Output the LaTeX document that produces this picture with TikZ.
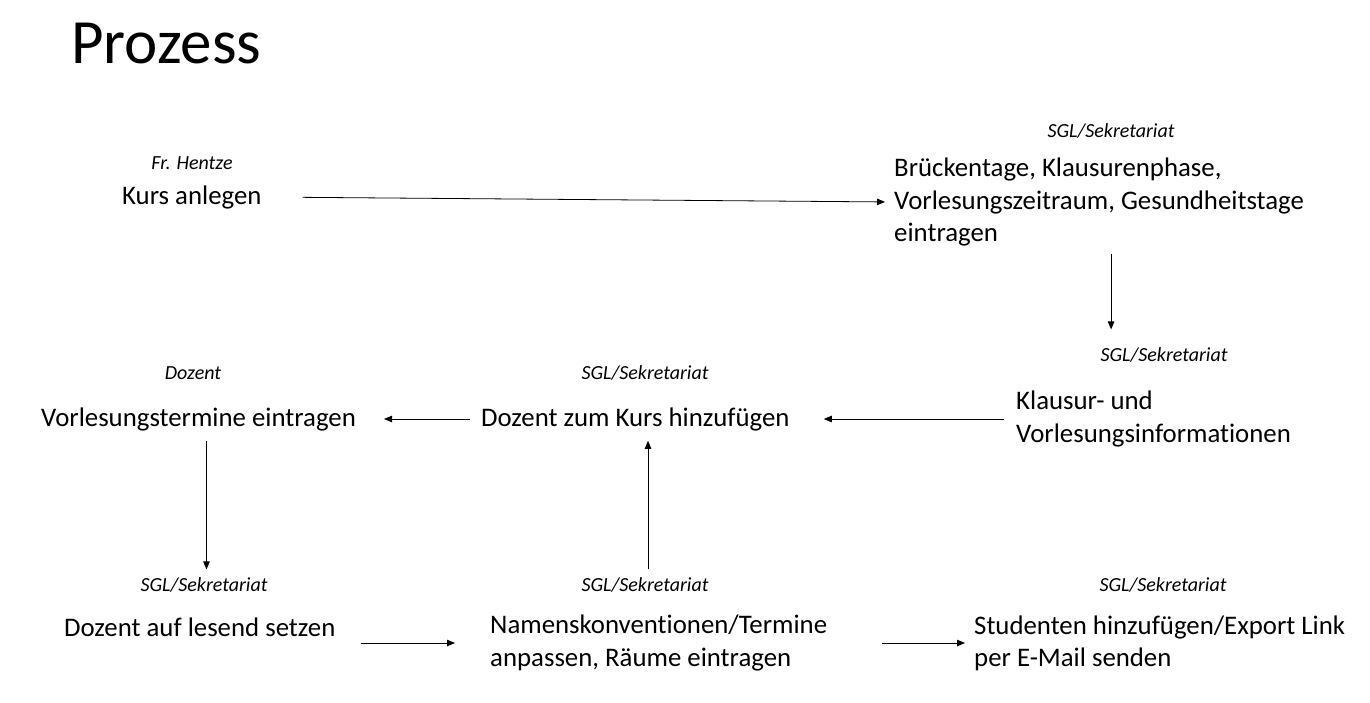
\documentclass[tikz,border=0pt]{standalone}
\usepackage{fontspec}
\setmainfont[Ligatures=NoCommon]{Carlito}
\usetikzlibrary{arrows.meta}

\begin{document}
\begin{tikzpicture}[x=1pt, y=1pt,
    every node/.style={inner sep=0pt, font=\fontsize{26.8}{32.3}\selectfont, align=left},
    rolle/.style={font=\fontsize{20}{24}\selectfont\itshape},
    pfeil/.style={-{Triangle[length=8pt,width=6.5pt]}, line width=0.8pt}]
      \useasboundingbox (0,0) rectangle (1370,-702);
      % Titel
      \node[anchor=base west, font=\fontsize{63}{70}\selectfont] (titel) at (71,-63) {Prozess};
      % Kurs anlegen
      \node[rolle] (rkurs) at (192,-163) {Fr. Hentze};
      \node[anchor=west] (kurs) at (122,-197) {Kurs anlegen};
      % Brueckentage usw.
      \node[rolle] (rbrueck) at (1111,-131) {SGL/Sekretariat};
      \node[anchor=west] (brueck) at (894,-202)
        {Brückentage, Klausurenphase,\\Vorlesungszeitraum, Gesundheitstage\\eintragen};
      % Klausur- und Vorlesungsinformationen
      \node[rolle] (rinfo) at (1164,-355) {SGL/Sekretariat};
      \node[anchor=west] (info) at (1016,-419) {Klausur- und\\Vorlesungsinformationen};
      % Dozent zum Kurs
      \node[rolle] (rdozkurs) at (645,-373) {SGL/Sekretariat};
      \node[anchor=west] (dozkurs) at (481,-419) {Dozent zum Kurs hinzufügen};
      % Vorlesungstermine
      \node[rolle] (rtermine) at (193,-373) {Dozent};
      \node[anchor=west] (termine) at (41,-419) {Vorlesungstermine eintragen};
      % lesend setzen
      \node[rolle] (rlesend) at (204,-585) {SGL/Sekretariat};
      \node[anchor=west] (lesend) at (64,-627) {Dozent auf lesend setzen};
      % Namenskonventionen
      \node[rolle] (rnamens) at (645,-585) {SGL/Sekretariat};
      \node[anchor=west] (namens) at (490,-643) {Namenskonventionen/Termine\\anpassen, Räume eintragen};
      % Studenten
      \node[rolle] (rstud) at (1163,-585) {SGL/Sekretariat};
      \node[anchor=west] (stud) at (974,-643) {Studenten hinzufügen/Export Link\\per E-Mail senden};

      % Pfeile
      \draw[pfeil, shorten <=41pt, shorten >=9pt] (kurs.east) -- (brueck.west);
      \coordinate (p2) at ([xshift=12pt]brueck.south);
      \draw[pfeil, shorten <=8pt, shorten >=18pt] (p2) -- (p2 |- rinfo.north);
      \draw[pfeil, shorten <=12pt, shorten >=34pt] (info.west) -- (dozkurs.east);
      \draw[pfeil, shorten <=11pt, shorten >=28pt] (dozkurs.west) -- (termine.east);
      \coordinate (p5) at ([xshift=8pt]termine.south);
      \draw[pfeil, shorten <=10pt, shorten >=8pt] (p5) -- (p5 |- rlesend.north);
      \draw[pfeil, shorten <=25pt, shorten >=35pt] (lesend.east |- namens.west) -- (namens.west);
      \coordinate (p7) at ([xshift=3pt]rnamens.north);
      \draw[pfeil, shorten <=8pt, shorten >=10pt] (p7) -- (p7 |- dozkurs.south);
      \draw[pfeil, shorten <=55pt, shorten >=9pt] (namens.east |- stud.west) -- (stud.west);
    \end{tikzpicture}
\end{document}
